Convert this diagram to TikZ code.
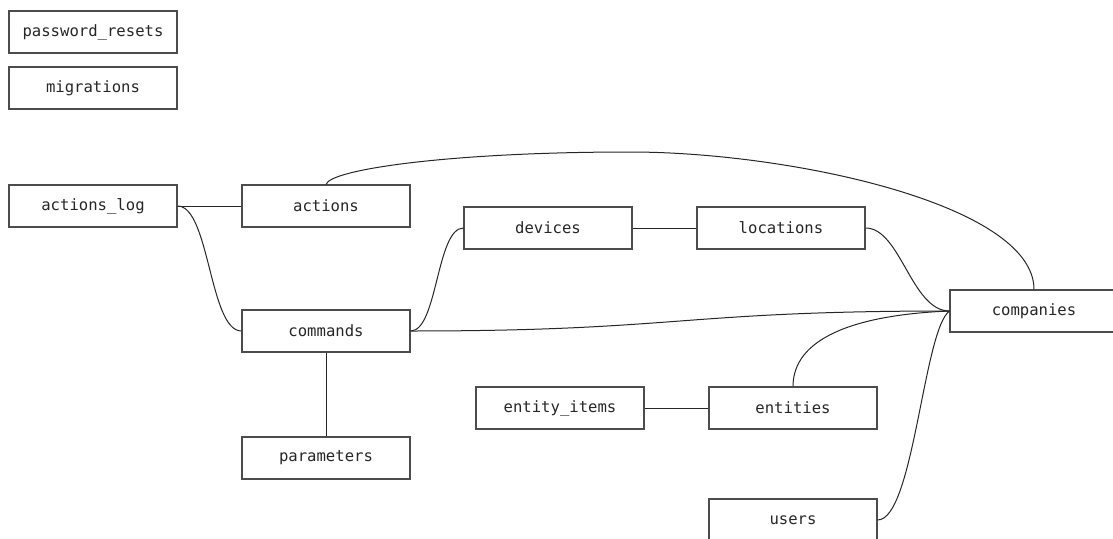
\documentclass[tikz,border=0pt]{standalone}
\usepackage{fontspec}
\setmonofont{DejaVu Sans Mono}
\begin{document}
\begin{tikzpicture}[x=1pt,y=-1pt,
  tbl/.style={draw=black!70,line width=1.1pt,rectangle,minimum width=168pt,minimum height=42pt,inner sep=0pt,
    font=\ttfamily\fontsize{15.6}{18}\selectfont,text=black!85},
  link/.style={draw=black!85,line width=1pt}]
\path[use as bounding box] (0,0) rectangle (1113,538);
\clip (0,0) rectangle (1113,538);
\node[tbl] (pr) at (93,32) {password\_resets};
\node[tbl] (mig) at (93,88) {migrations};
\node[tbl] (alog) at (93,206) {actions\_log};
\node[tbl] (act) at (326,206) {actions};
\node[tbl] (dev) at (548,228) {devices};
\node[tbl] (loc) at (781,228) {locations};
\node[tbl] (comp) at (1034,311) {companies};
\node[tbl] (cmd) at (326,331) {commands};
\node[tbl] (par) at (326,458) {parameters};
\node[tbl] (eit) at (560,408) {entity\_items};
\node[tbl] (ent) at (793,408) {entities};
\node[tbl] (usr) at (793,520) {users};
\coordinate (peak) at (630,152);
\draw[link] (alog.east) -- (act.west);
\draw[link] (alog.east) .. controls +(32,0) and +(-32,0) .. (cmd.west);
\draw[link] (act.north) .. controls +(4,-15) and +(-180,0) .. (peak)
            .. controls +(160,0) and +(0,-85) .. (comp.north);
\draw[link] (cmd.east) .. controls +(27,0) and +(-27,0) .. (dev.west);
\draw[link] (cmd.east) .. controls +(270,0) and +(-270,0) .. (comp.west);
\draw[link] (dev.east) -- (loc.west);
\draw[link] (loc.east) .. controls +(35,0) and +(-38,0) .. (comp.west);
\draw[link] (ent.north) .. controls +(0,-47) and +(-98,4) .. (comp.west);
\draw[link] (usr.east) .. controls +(36,0) and +(-26,19) .. (comp.west);
\draw[link] (cmd.south) -- (par.north);
\draw[link] (eit.east) -- (ent.west);
\end{tikzpicture}
\end{document}
